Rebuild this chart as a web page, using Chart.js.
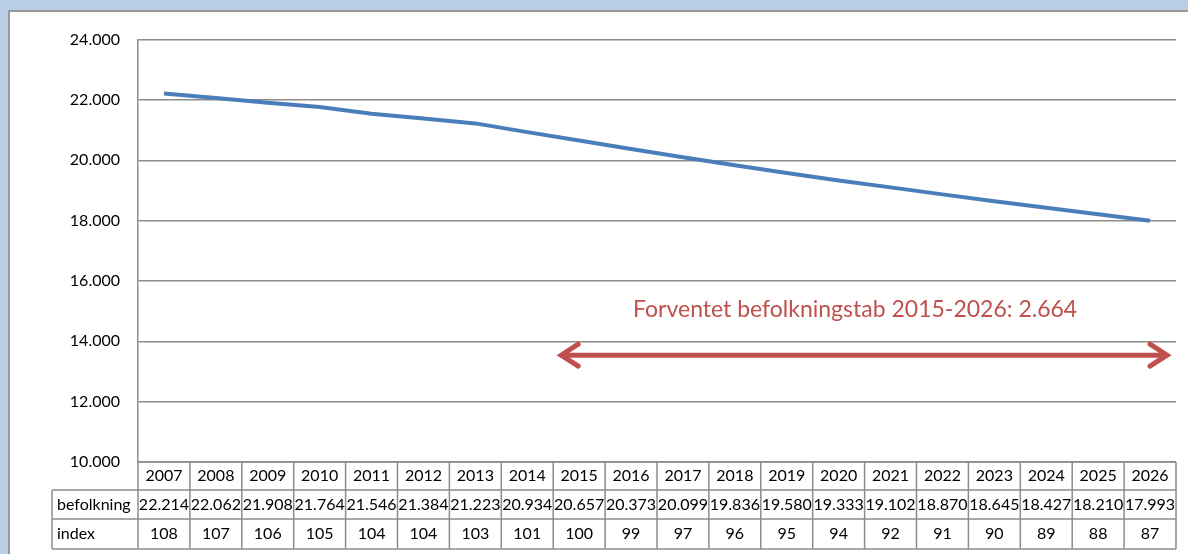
<!DOCTYPE html>
<html>
<head>
<meta charset="utf-8">
<script src="https://cdn.jsdelivr.net/npm/chart.js@4/dist/chart.umd.min.js"></script>
<style>
  html, body { margin: 0; padding: 0; background: #b9cde5; overflow: hidden; }
  #frame {
    position: absolute; left: 8px; top: 10px; width: 1180px; height: 546px;
    background: #fff; border-top: 2px solid #9a9a9a; border-left: 2px solid #9a9a9a;
  }
  #wrap { position: absolute; left: 0; top: 0; width: 1178px; height: 544px; }
</style>
</head>
<body>
<div id="frame"><div id="wrap"><canvas id="chart"></canvas></div></div>
<script>
// Data
const years = ['2007', '2008', '2009', '2010', '2011', '2012', '2013', '2014', '2015', '2016',
  '2017', '2018', '2019', '2020', '2021', '2022', '2023', '2024', '2025', '2026'];
const befolkning = [22214, 22062, 21908, 21764, 21546, 21384, 21223, 20934, 20657, 20373,
  20099, 19836, 19580, 19333, 19102, 18870, 18645, 18427, 18210, 17993];
const indexValues = [108, 107, 106, 105, 104, 104, 103, 101, 100, 99,
  97, 96, 95, 94, 92, 91, 90, 89, 88, 87];
const rowLabels = ['befolkning', 'index'];
const noteText = 'Forventet befolkningstab 2015-2026: 2.664';
const arrowFrom = '2015';
const arrowTo = '2026';

const FONT = 'Lato, "Noto Sans", sans-serif';
const GRID = '#8c8c8c';
const RED = '#c0504d';

// 24000 -> "24.000"
const fmt = (v) => `${Math.floor(v / 1000)}.${String(Math.round(v % 1000)).padStart(3, '0')}`;

const dataTable = {
  id: 'dataTable',
  afterDraw(chart) {
    const { ctx, chartArea, scales: { x } } = chart;
    const colW = (chartArea.right - chartArea.left) / years.length;
    const rowH = [28, 29, 30];
    const top = chartArea.bottom;
    const labelLeft = 42;
    ctx.save();
    ctx.strokeStyle = GRID;
    ctx.lineWidth = 1.5;
    ctx.fillStyle = '#000';
    ctx.font = `16px ${FONT}`;
    ctx.textBaseline = 'middle';

    const y0 = top;
    const y1 = y0 + rowH[0];
    const y2 = y1 + rowH[1];
    const y3 = y2 + rowH[2];

    // horizontal lines
    ctx.beginPath();
    ctx.moveTo(chartArea.left, y0); ctx.lineTo(chartArea.right, y0);
    ctx.moveTo(labelLeft, y1); ctx.lineTo(chartArea.right, y1);
    ctx.moveTo(labelLeft, y2); ctx.lineTo(chartArea.right, y2);
    ctx.moveTo(labelLeft, y3); ctx.lineTo(chartArea.right, y3);
    // vertical lines
    ctx.moveTo(labelLeft, y1); ctx.lineTo(labelLeft, y3);
    for (let i = 0; i <= years.length; i += 1) {
      const xx = chartArea.left + i * colW;
      ctx.moveTo(xx, y0); ctx.lineTo(xx, y3);
    }
    ctx.stroke();

    ctx.textAlign = 'left';
    ctx.fillText(rowLabels[0], labelLeft + 5, (y1 + y2) / 2);
    ctx.fillText(rowLabels[1], labelLeft + 5, (y2 + y3) / 2);

    ctx.textAlign = 'center';
    years.forEach((yr, i) => {
      const cx = x.getPixelForValue(i);
      ctx.fillText(yr, cx, (y0 + y1) / 2);
      ctx.fillText(fmt(befolkning[i]), cx, (y1 + y2) / 2);
      ctx.fillText(String(indexValues[i]), cx, (y2 + y3) / 2);
    });
    ctx.restore();
  },
};

const arrowNote = {
  id: 'arrowNote',
  afterDatasetsDraw(chart) {
    const { ctx, chartArea, scales: { x, y } } = chart;
    const colW = (chartArea.right - chartArea.left) / years.length;
    const xa = x.getPixelForValue(years.indexOf(arrowFrom)) - colW / 2 + 7;
    const xb = x.getPixelForValue(years.indexOf(arrowTo)) + colW / 2 - 8;
    const ya = y.getPixelForValue(13540);
    ctx.save();
    ctx.strokeStyle = RED;
    ctx.lineWidth = 5;
    ctx.lineCap = 'round';
    ctx.lineJoin = 'miter';
    ctx.beginPath();
    ctx.moveTo(xa + 2, ya); ctx.lineTo(xb - 2, ya);
    ctx.stroke();
    ctx.beginPath();
    ctx.moveTo(xa + 18, ya - 11); ctx.lineTo(xa + 1, ya); ctx.lineTo(xa + 18, ya + 11);
    ctx.moveTo(xb - 18, ya - 11); ctx.lineTo(xb - 1, ya); ctx.lineTo(xb - 18, ya + 11);
    ctx.stroke();

    ctx.fillStyle = RED;
    ctx.font = `23px ${FONT}`;
    ctx.textAlign = 'center';
    ctx.textBaseline = 'middle';
    ctx.fillText(noteText, (xa + xb) / 2 - 9, y.getPixelForValue(15040));
    ctx.restore();
  },
};

new Chart(document.getElementById('chart'), {
  type: 'line',
  data: {
    labels: years,
    datasets: [{
      data: befolkning,
      borderColor: '#4a7ebb',
      borderWidth: 4,
      pointRadius: 0,
      tension: 0,
      fill: false,
    }],
  },
  options: {
    responsive: true,
    maintainAspectRatio: false,
    animation: false,
    layout: { padding: { top: 27, right: 12, bottom: 94, left: 0 } },
    scales: {
      x: { offset: true, display: false },
      y: {
        min: 10000,
        max: 24000,
        afterFit: (axis) => { axis.width = 128; },
        ticks: {
          stepSize: 2000,
          padding: 18,
          color: '#000',
          font: { family: FONT, size: 16 },
          callback: (v) => fmt(v),
        },
        grid: { color: GRID, lineWidth: 1.5, drawTicks: false },
        border: { color: GRID, width: 1.5 },
      },
    },
    plugins: { legend: { display: false }, tooltip: { enabled: false } },
  },
  plugins: [arrowNote, dataTable],
});
</script>
</body>
</html>
